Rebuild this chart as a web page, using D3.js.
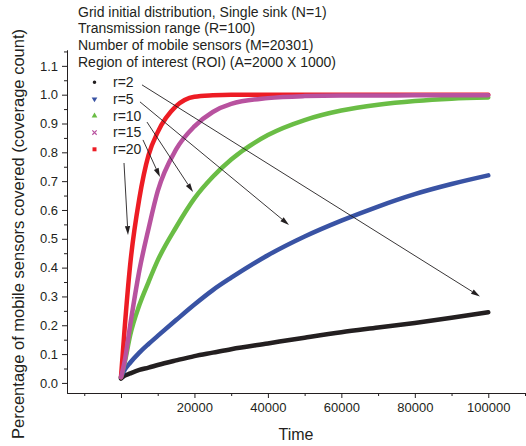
<!DOCTYPE html>
<html>
<head>
<meta charset="utf-8">
<script src="https://cdn.jsdelivr.net/npm/d3@7"></script>
<style>
  body { margin: 0; background: #fff; }
  svg { display: block; font-family: Arial, "Liberation Sans", sans-serif; }
  .axis text { font-size: 13px; fill: #231f20; }
  .axis path, .axis line { stroke: #231f20; stroke-width: 1; }
</style>
</head>
<body>
<svg id="chart" width="526" height="446"></svg>
<script>
// values
var times = [0, 1000, 2500, 5000, 7500, 10000, 15000, 20000, 25000, 30000, 40000, 50000, 60000, 70000, 80000, 90000, 100000];
var r2  = [0.015, 0.025, 0.033, 0.045, 0.053, 0.062, 0.078, 0.093, 0.105, 0.117, 0.137, 0.157, 0.176, 0.192, 0.208, 0.226, 0.245];
var r5  = [0.02, 0.045, 0.07, 0.105, 0.135, 0.163, 0.218, 0.272, 0.322, 0.365, 0.443, 0.508, 0.563, 0.612, 0.655, 0.69, 0.72];
var r10 = [0.02, 0.07, 0.165, 0.27, 0.35, 0.425, 0.54, 0.64, 0.715, 0.775, 0.86, 0.912, 0.945, 0.965, 0.978, 0.986, 0.99];
var r15 = [0.02, 0.075, 0.2, 0.39, 0.535, 0.665, 0.81, 0.89, 0.94, 0.968, 0.988, 0.995, 0.997, 0.997, 0.998, 0.998, 0.998];
var r20 = [0.02, 0.19, 0.41, 0.64, 0.79, 0.87, 0.96, 0.993, 0.998, 1.0, 1.0, 1.0, 1.0, 1.0, 1.0, 1.0, 1.0];

var seriesNames = ["r=2", "r=5", "r=10", "r=15", "r=20"];
var seriesColors = ["#231f20", "#3953a4", "#6abd45", "#b8529f", "#ed1c24"];
var seriesSymbols = ["circle", "down", "up", "cross", "square"];

var headerLines = [
  "Grid initial distribution, Single sink (N=1)",
  "Transmission range (R=100)",
  "Number of mobile sensors (M=20301)",
  "Region of interest (ROI) (A=2000 X 1000)"
];

var xMajor = [0, 20000, 40000, 60000, 80000, 100000];
var xMinor = [-10000, 10000, 30000, 50000, 70000, 90000, 110000];
var yMajor = [0, 0.1, 0.2, 0.3, 0.4, 0.5, 0.6, 0.7, 0.8, 0.9, 1.0, 1.1];
var yMinor = [0.05, 0.15, 0.25, 0.35, 0.45, 0.55, 0.65, 0.75, 0.85, 0.95, 1.05, 1.15];

// annotation arrows: from label to curve, in data units [t0, v0, t1, v1]
var arrows = [
  [5720, 1.034, 97740, 0.30],
  [5170, 0.975, 45740, 0.548],
  [7080, 0.905, 19600, 0.662],
  [5990, 0.843, 10620, 0.714],
  [820, 0.763, 1910, 0.513]
];

var svg = d3.select("#chart");

var x = d3.scaleLinear().domain([-14700, 110000]).range([67, 525]);
var y = d3.scaleLinear().domain([-0.035, 1.155]).range([393, 50]);

// axes
svg.append("g").attr("class", "axis")
    .attr("transform", "translate(0,393)")
    .call(d3.axisBottom(x).tickValues(xMinor).tickSize(3).tickFormat("").tickSizeOuter(0));
svg.append("g").attr("class", "axis")
    .attr("transform", "translate(0,393)")
    .call(d3.axisBottom(x).tickValues(xMajor).tickSize(5).tickPadding(5).tickSizeOuter(0)
      .tickFormat(function(d) { return d === 0 ? "" : d; }));
svg.append("g").attr("class", "axis")
    .attr("transform", "translate(67,0)")
    .call(d3.axisLeft(y).tickValues(yMinor).tickSize(3).tickFormat("").tickSizeOuter(0));
svg.append("g").attr("class", "axis")
    .attr("transform", "translate(67,0)")
    .call(d3.axisLeft(y).tickValues(yMajor).tickSize(5).tickPadding(4).tickSizeOuter(0)
      .tickFormat(d3.format(".1f")));

// curves (magenta drawn over red, as in the original)
var allSeries = [r2, r5, r10, r15, r20];
var order = [0, 1, 2, 4, 3];
var line = d3.line()
    .x(function(d, i) { return x(times[i]); })
    .y(function(d) { return y(d); })
    .curve(d3.curveMonotoneX);

order.forEach(function(k) {
  svg.append("path")
      .attr("d", line(allSeries[k]))
      .attr("fill", "none")
      .attr("stroke", seriesColors[k])
      .attr("stroke-width", 4.5)
      .attr("stroke-linecap", "round");
});

// header text
svg.selectAll(".hdr").data(headerLines).enter().append("text")
    .attr("x", 78)
    .attr("y", function(d, i) { return 16.5 + i * 16.9; })
    .attr("font-size", 14)
    .attr("fill", "#231f20")
    .text(function(d) { return d; });

// legend
var leg = svg.selectAll(".leg").data(seriesNames).enter().append("g")
    .attr("transform", function(d, i) { return "translate(94.5," + (82.3 + i * 16.75) + ")"; });
leg.append("path")
    .attr("d", function(d, i) {
      var s = seriesSymbols[i];
      if (s === "circle") return d3.symbol(d3.symbolCircle, 10)();
      if (s === "square") return d3.symbol(d3.symbolSquare, 16)();
      if (s === "cross") return d3.symbol(d3.symbolTimes, 14)();
      return d3.symbol(d3.symbolTriangle, 14)();
    })
    .attr("transform", function(d, i) { return seriesSymbols[i] === "down" ? "rotate(180)" : null; })
    .attr("fill", function(d, i) { return seriesSymbols[i] === "cross" ? "none" : seriesColors[i]; })
    .attr("stroke", function(d, i) { return seriesSymbols[i] === "cross" ? seriesColors[i] : "none"; })
    .attr("stroke-width", 1.2);
leg.append("text")
    .attr("x", 18.5)
    .attr("dy", "0.35em")
    .attr("font-size", 14)
    .attr("fill", "#231f20")
    .text(function(d) { return d; });

// arrows
arrows.forEach(function(a) {
  var x0 = x(a[0]), y0 = y(a[1]), x1 = x(a[2]), y1 = y(a[3]);
  var ang = Math.atan2(y1 - y0, x1 - x0);
  var len = 9, half = 2.6;
  var bx = x1 - len * Math.cos(ang), by = y1 - len * Math.sin(ang);
  svg.append("line")
      .attr("x1", x0).attr("y1", y0).attr("x2", bx).attr("y2", by)
      .attr("stroke", "#231f20").attr("stroke-width", 0.9);
  svg.append("path")
      .attr("d", "M" + x1 + "," + y1 +
        "L" + (bx + half * Math.sin(ang)) + "," + (by - half * Math.cos(ang)) +
        "L" + (bx - half * Math.sin(ang)) + "," + (by + half * Math.cos(ang)) + "Z")
      .attr("fill", "#231f20");
});

// axis titles
svg.append("text")
    .attr("x", 296).attr("y", 440)
    .attr("text-anchor", "middle")
    .attr("font-size", 16)
    .attr("fill", "#231f20")
    .text("Time");
svg.append("text")
    .attr("transform", "translate(24,234) rotate(-90)")
    .attr("text-anchor", "middle")
    .attr("font-size", 16.5)
    .attr("fill", "#231f20")
    .text("Percentage of mobile sensors covered (coverage count)");
</script>
</body>
</html>
